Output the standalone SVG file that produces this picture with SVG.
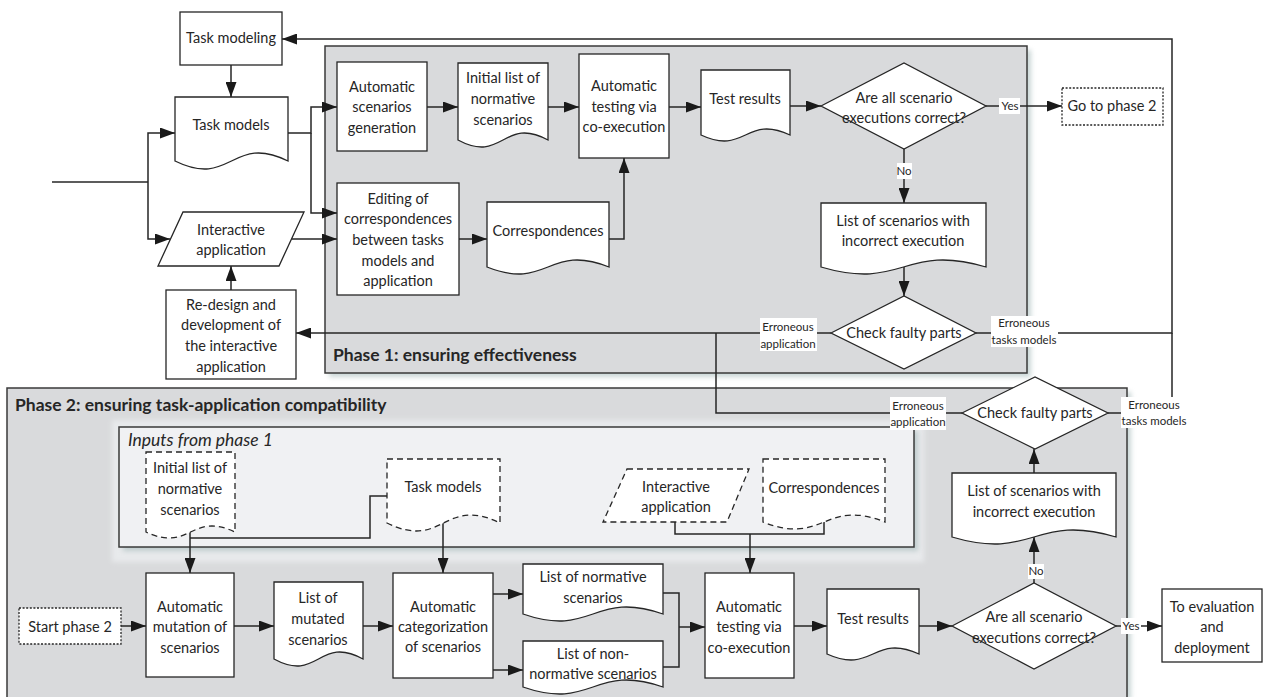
<svg xmlns="http://www.w3.org/2000/svg" width="1265" height="697" viewBox="0 0 1265 697">
<style>
.bg{fill:#fff}
.ph{fill:#d9dadc;stroke:#3a3a3a;stroke-width:1.5}
.pan{fill:#f0f1f3;stroke:#3a3a3a;stroke-width:1.5}
.sh{fill:#9fb5b5;opacity:.55}
.box{fill:#fff;stroke:#262626;stroke-width:1.3}
.dash{stroke-dasharray:6 4}
.dot{stroke-dasharray:2 1.6}
.con{fill:none;stroke:#262626;stroke-width:1.5}
.arr{marker-end:url(#ah)}
.t{font-family:Lato,'Liberation Sans',sans-serif;font-size:14.5px;fill:#262626;text-anchor:middle}
.lbl{font-size:11.5px}
.lb{fill:#fff}
.ttl{font-family:Lato,'Liberation Sans',sans-serif;font-size:17.5px;font-weight:bold;fill:#262626}
.it{font-family:Lato,'Liberation Sans',sans-serif;font-size:17.5px;font-style:italic;fill:#262626}
</style>
<defs>
<marker id="ah" viewBox="0 0 15 11" refX="15" refY="5.5" markerWidth="15" markerHeight="11" markerUnits="userSpaceOnUse" orient="auto"><path d="M0,0 L15,5.5 L0,11 Z" fill="#1a1a1a"/></marker>
<filter id="blur" x="-5%" y="-5%" width="110%" height="110%"><feGaussianBlur stdDeviation="2.5"/></filter>
</defs>
<rect class="bg" x="0" y="0" width="1265" height="697"/>

<g id="phase1">
<rect class="sh" x="329" y="50" width="702" height="327" filter="url(#blur)"/>
<rect class="ph" x="325" y="46" width="702" height="327"/>
<text class="ttl" x="333" y="361">Phase 1: ensuring effectiveness</text>
</g>
<g id="phase2">
<rect class="sh" x="11" y="392" width="1120" height="308" filter="url(#blur)"/>
<rect class="ph" x="7" y="388" width="1120" height="310"/>
<text class="ttl" x="15" y="411">Phase 2: ensuring task-application compatibility</text>
</g>
<g id="inputs">
<rect x="112" y="420" width="812" height="142" fill="#e8eaec" filter="url(#blur)"/>
<rect class="sh" x="123" y="431" width="795" height="120" filter="url(#blur)"/>
<rect class="pan" x="119" y="427" width="795" height="120"/>
<text class="it" x="128" y="446">Inputs from phase 1</text>
</g>

<g id="connectors">
<path class="con" d="M52,182 H148"/>
<path class="con arr" d="M148,182 V133 H175"/>
<path class="con arr" d="M148,182 V239 H170"/>
<path class="con arr" d="M231,65 V97"/>
<path class="con arr" d="M288,133 H311 V107 H337"/>
<path class="con arr" d="M311,133 V213 H337"/>
<path class="con arr" d="M292,239 H337"/>
<path class="con arr" d="M231,290 V266"/>
<path class="con arr" d="M427,107 H458"/>
<path class="con arr" d="M548,107 H579"/>
<path class="con arr" d="M669,107 H701"/>
<path class="con arr" d="M790,106 H821"/>
<path class="con arr" d="M986,106 H1062"/>
<path class="con arr" d="M904,149 V203"/>
<path class="con arr" d="M459,239 H487"/>
<path class="con arr" d="M609,239 H624 V158"/>
<path class="con arr" d="M904,267 V296"/>
<path class="con arr" d="M831,333 H296"/>
<path class="con arr" d="M976,333 H1172 V39 H282"/>
<path class="con" d="M962,413 H716 V333"/>
<path class="con" d="M1108,413 H1172 V333"/>
<path class="con arr" d="M121,626 H146"/>
<path class="con arr" d="M234,626 H274"/>
<path class="con arr" d="M363,626 H393"/>
<path class="con arr" d="M190,532 V573"/>
<path class="con" d="M387,496 H370 V538 H190"/>
<path class="con arr" d="M443,523 V573"/>
<path class="con arr" d="M493,594 H523"/>
<path class="con arr" d="M493,670 H523"/>
<path class="con" d="M663,593 H679 V667 H663"/>
<path class="con arr" d="M679,627 H705"/>
<path class="con" d="M675,522 V534 H824 V522"/>
<path class="con arr" d="M750,534 V573"/>
<path class="con arr" d="M794,626 H827"/>
<path class="con arr" d="M919,626 H952"/>
<path class="con arr" d="M1116,626 H1162"/>
<path class="con arr" d="M1034,583 V537"/>
<path class="con arr" d="M1034,473 V449"/>
</g>

<g id="taskModeling"><rect class="box" x="180" y="12" width="102" height="53"/><text class="t" x="231" y="43">Task modeling</text></g>
<g id="taskModels"><path class="box" d="M175,97 H288 V161 C231.5,133.3 231.5,188.7 175,161 Z"/><text class="t" x="231" y="130">Task models</text></g>
<g id="interactiveApp"><polygon class="box" points="183,212 304,212 279,266 158,266"/><text class="t" x="231" y="235">Interactive</text><text class="t" x="231" y="255">application</text></g>
<g id="redesign"><rect class="box" x="166" y="290" width="130" height="89"/><text class="t" x="231" y="310">Re-design and</text><text class="t" x="231" y="330">development of</text><text class="t" x="231" y="351">the interactive</text><text class="t" x="231" y="372">application</text></g>
<g id="autoGen"><rect class="box" x="337" y="62" width="90" height="89"/><text class="t" x="382" y="92">Automatic</text><text class="t" x="382" y="112">scenarios</text><text class="t" x="382" y="133">generation</text></g>
<g id="initList"><path class="box" d="M458,63 H548 V140 C503,115.8 503,164.2 458,140 Z"/><text class="t" x="503" y="83">Initial list of</text><text class="t" x="503" y="104">normative</text><text class="t" x="503" y="125">scenarios</text></g>
<g id="autoTest1"><rect class="box" x="579" y="54" width="90" height="104"/><text class="t" x="624" y="91">Automatic</text><text class="t" x="624" y="112">testing via</text><text class="t" x="624" y="132">co-execution</text></g>
<g id="testResults1"><path class="box" d="M701,70 H790 V135 C745.5,114.2 745.5,155.8 701,135 Z"/><text class="t" x="745" y="104">Test results</text></g>
<g id="decision1"><polygon class="box" points="821,106 904,63 986,106 904,149"/><text class="t" x="904" y="103">Are all scenario</text><text class="t" x="904" y="123">executions correct?</text></g>
<g id="goPhase2"><rect class="box dot" x="1062" y="88" width="101" height="37"/><text class="t" x="1112" y="111">Go to phase 2</text></g>
<g id="editing"><rect class="box" x="337" y="183" width="122" height="112"/><text class="t" x="398" y="204">Editing of</text><text class="t" x="398" y="224">correspondences</text><text class="t" x="398" y="245">between tasks</text><text class="t" x="398" y="266">models and</text><text class="t" x="398" y="286">application</text></g>
<g id="correspondences1"><path class="box" d="M487,202 H609 V267 C548,242.8 548,291.2 487,267 Z"/><text class="t" x="548" y="236">Correspondences</text></g>
<g id="listIncorrect1"><path class="box" d="M821,203 H986 V267 C903.5,242.8 903.5,291.2 821,267 Z"/><text class="t" x="903" y="226">List of scenarios with</text><text class="t" x="903" y="246">incorrect execution</text></g>
<g id="checkFaulty1"><polygon class="box" points="831,333 904,296 976,333 904,369"/><text class="t" x="904" y="338">Check faulty parts</text></g>
<g id="checkFaulty2"><polygon class="box" points="962,413 1035,377 1108,413 1035,449"/><text class="t" x="1035" y="418">Check faulty parts</text></g>

<g id="initListIn"><path class="box dash" d="M146,452 H235 V532 C190.5,511.2 190.5,552.8 146,532 Z"/><text class="t" x="190" y="473">Initial list of</text><text class="t" x="190" y="494">normative</text><text class="t" x="190" y="515">scenarios</text></g>
<g id="taskModelsIn"><path class="box dash" d="M387,459 H500 V523 C443.5,495.3 443.5,550.7 387,523 Z"/><text class="t" x="443" y="492">Task models</text></g>
<g id="interactiveIn"><polygon class="box dash" points="627,469 749,469 727,522 603,522"/><text class="t" x="676" y="492">Interactive</text><text class="t" x="676" y="512">application</text></g>
<g id="correspondencesIn"><path class="box dash" d="M763,459 H885 V522 C824,497.8 824,546.2 763,522 Z"/><text class="t" x="824" y="493">Correspondences</text></g>
<g id="startPhase2"><rect class="box dot" x="19" y="608" width="102" height="36"/><text class="t" x="70" y="632">Start phase 2</text></g>
<g id="mutation"><rect class="box" x="146" y="573" width="88" height="104"/><text class="t" x="190" y="612">Automatic</text><text class="t" x="190" y="632">mutation of</text><text class="t" x="190" y="653">scenarios</text></g>
<g id="mutated"><path class="box" d="M274,582 H363 V659 C318.5,634.8 318.5,683.2 274,659 Z"/><text class="t" x="318" y="603">List of</text><text class="t" x="318" y="624">mutated</text><text class="t" x="318" y="645">scenarios</text></g>
<g id="categorization"><rect class="box" x="393" y="573" width="100" height="105"/><text class="t" x="443" y="612">Automatic</text><text class="t" x="443" y="632">categorization</text><text class="t" x="443" y="652">of scenarios</text></g>
<g id="listNormative"><path class="box" d="M523,564 H663 V614 C593,589.8 593,638.2 523,614 Z"/><text class="t" x="593" y="582">List of normative</text><text class="t" x="593" y="603">scenarios</text></g>
<g id="listNonNormative"><path class="box" d="M523,641 H663 V687 C593,662.8 593,711.2 523,687 Z"/><text class="t" x="593" y="659">List of non-</text><text class="t" x="593" y="679">normative scenarios</text></g>
<g id="autoTest2"><rect class="box" x="705" y="573" width="89" height="105"/><text class="t" x="749" y="612">Automatic</text><text class="t" x="749" y="632">testing via</text><text class="t" x="749" y="653">co-execution</text></g>
<g id="testResults2"><path class="box" d="M827,589 H919 V654 C873,633.2 873,674.8 827,654 Z"/><text class="t" x="873" y="624">Test results</text></g>
<g id="decision2"><polygon class="box" points="952,626 1034,583 1116,626 1034,669"/><text class="t" x="1034" y="622">Are all scenario</text><text class="t" x="1034" y="643">executions correct?</text></g>
<g id="toEvaluation"><rect class="box" x="1162" y="589" width="100" height="73"/><text class="t" x="1212" y="612">To evaluation</text><text class="t" x="1212" y="632">and</text><text class="t" x="1212" y="653">deployment</text></g>
<g id="listIncorrect2"><path class="box" d="M952,473 H1116 V537 C1034,512.8 1034,561.2 952,537 Z"/><text class="t" x="1034" y="496">List of scenarios with</text><text class="t" x="1034" y="517">incorrect execution</text></g>

<g id="labels">
<rect class="lb" x="999" y="98" width="21" height="16"/><text class="t lbl" x="1010" y="110">Yes</text>
<rect class="lb" x="897" y="163" width="15" height="16"/><text class="t lbl" x="904" y="175">No</text>
<rect class="lb" x="760" y="318" width="57" height="33"/><text class="t lbl" x="788" y="331">Erroneous</text><text class="t lbl" x="788" y="348">application</text>
<rect class="lb" x="991" y="316" width="67" height="31"/><text class="t lbl" x="1024" y="327">Erroneous</text><text class="t lbl" x="1024" y="344">tasks models</text>
<rect class="lb" x="890" y="397" width="56" height="33"/><text class="t lbl" x="918" y="410">Erroneous</text><text class="t lbl" x="918" y="426">application</text>
<rect class="lb" x="1121" y="397" width="67" height="31"/><text class="t lbl" x="1154" y="409">Erroneous</text><text class="t lbl" x="1154" y="425">tasks models</text>
<rect class="lb" x="1121" y="618" width="20" height="16"/><text class="t lbl" x="1131" y="630">Yes</text>
<rect class="lb" x="1028" y="564" width="16" height="15"/><text class="t lbl" x="1036" y="575">No</text>
</g>
</svg>
